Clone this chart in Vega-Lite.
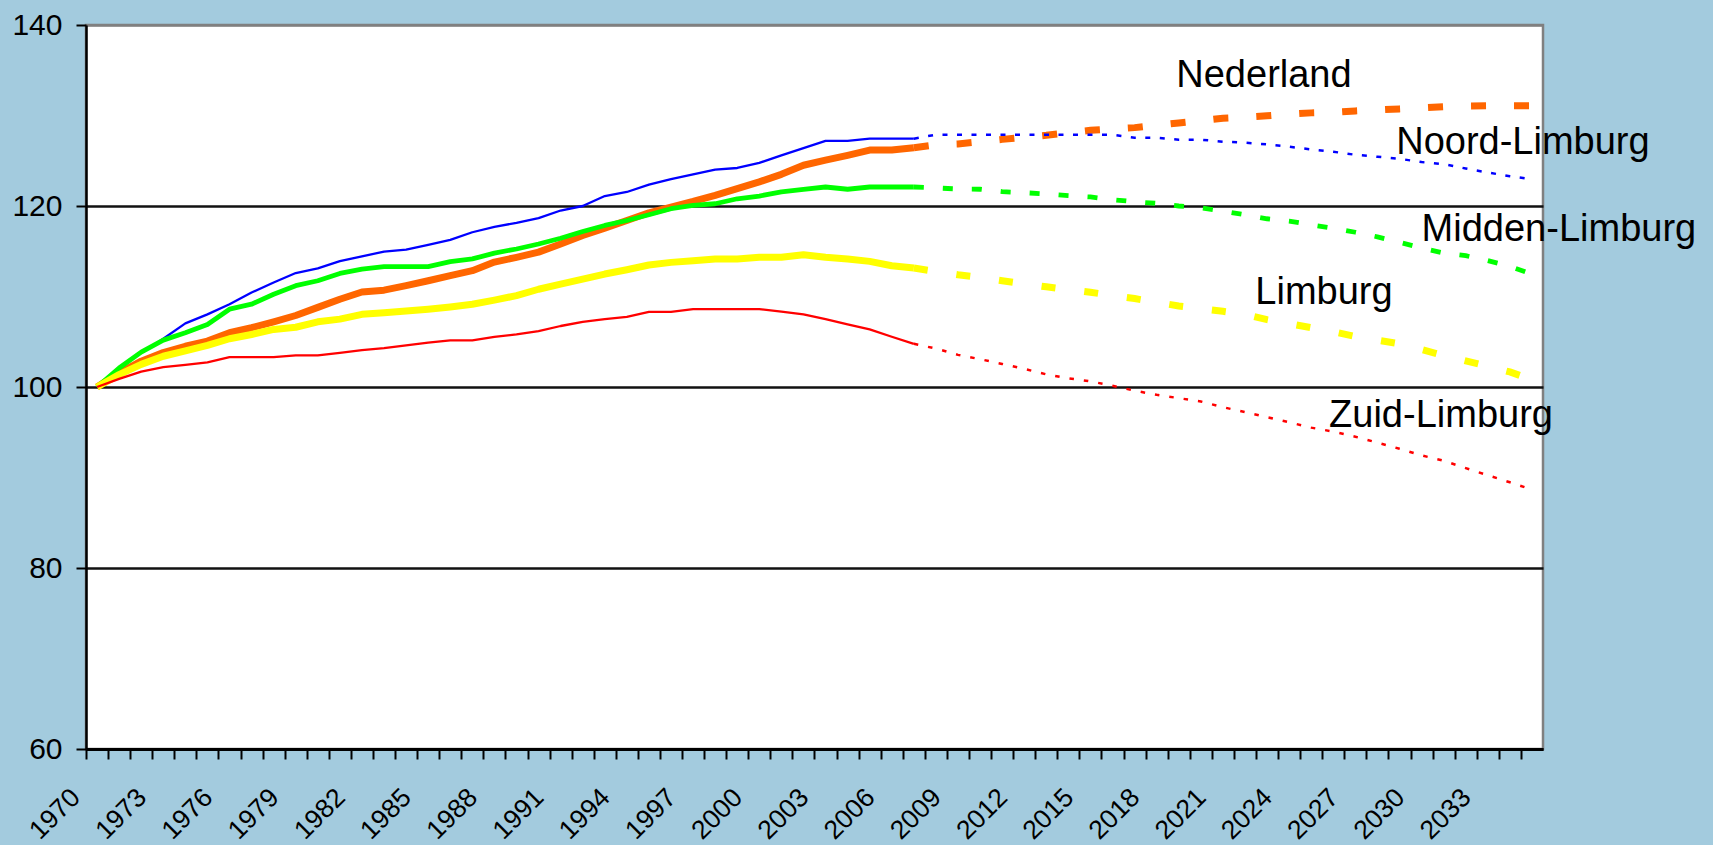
{
  "$schema": "https://vega.github.io/schema/vega-lite/v6.json",
  "autosize": {"type": "none"},
  "width": 1457,
  "height": 724,
  "padding": {"left": 86, "top": 25, "right": 170, "bottom": 96},
  "background": "#A3CBDE",
  "config": {
    "font": "Liberation Sans",
    "view": {"fill": "white", "stroke": "#808080", "strokeWidth": 2.5},
    "axis": {"labelColor": "black", "labelFont": "Liberation Sans", "domainColor": "black", "tickColor": "black", "title": null}
  },
  "datasets": {
    "ned_hist": [
      {"year":1970,"value":100},{"year":1971,"value":101.55},{"year":1972,"value":102.85},{"year":1973,"value":103.8},{"year":1974,"value":104.5},{"year":1975,"value":105.07},{"year":1976,"value":106.0},{"year":1977,"value":106.55},{"year":1978,"value":107.2},{"year":1979,"value":107.9},{"year":1980,"value":108.8},{"year":1981,"value":109.7},{"year":1982,"value":110.5},{"year":1983,"value":110.7},{"year":1984,"value":111.2},{"year":1985,"value":111.74},{"year":1986,"value":112.3},{"year":1987,"value":112.85},{"year":1988,"value":113.8},{"year":1989,"value":114.33},{"year":1990,"value":114.9},{"year":1991,"value":115.8},{"year":1992,"value":116.74},{"year":1993,"value":117.55},{"year":1994,"value":118.4},{"year":1995,"value":119.25},{"year":1996,"value":119.88},{"year":1997,"value":120.5},{"year":1998,"value":121.18},{"year":1999,"value":121.92},{"year":2000,"value":122.66},{"year":2001,"value":123.5},{"year":2002,"value":124.5},{"year":2003,"value":125.07},{"year":2004,"value":125.6},{"year":2005,"value":126.18},{"year":2006,"value":126.18},{"year":2007,"value":126.44}
    ],
    "ned_proj": [
      {"year":2007,"value":126.44},{"year":2008,"value":126.77},{"year":2009,"value":126.86},{"year":2010,"value":127.1},{"year":2011,"value":127.36},{"year":2012,"value":127.59},{"year":2013,"value":127.81},{"year":2014,"value":128.1},{"year":2015,"value":128.36},{"year":2016,"value":128.51},{"year":2017,"value":128.66},{"year":2018,"value":128.92},{"year":2019,"value":129.18},{"year":2020,"value":129.44},{"year":2021,"value":129.7},{"year":2022,"value":129.81},{"year":2023,"value":129.96},{"year":2024,"value":130.14},{"year":2025,"value":130.29},{"year":2026,"value":130.36},{"year":2027,"value":130.51},{"year":2028,"value":130.62},{"year":2029,"value":130.73},{"year":2030,"value":130.84},{"year":2031,"value":130.96},{"year":2032,"value":131.03},{"year":2033,"value":131.07},{"year":2034,"value":131.07},{"year":2035,"value":131.07}
    ],
    "noord_hist": [
      {"year":1970,"value":100},{"year":1971,"value":102.1},{"year":1972,"value":103.77},{"year":1973,"value":105.33},{"year":1974,"value":107.03},{"year":1975,"value":108.03},{"year":1976,"value":109.14},{"year":1977,"value":110.44},{"year":1978,"value":111.55},{"year":1979,"value":112.59},{"year":1980,"value":113.1},{"year":1981,"value":113.9},{"year":1982,"value":114.44},{"year":1983,"value":114.96},{"year":1984,"value":115.18},{"year":1985,"value":115.7},{"year":1986,"value":116.25},{"year":1987,"value":117.1},{"year":1988,"value":117.7},{"year":1989,"value":118.14},{"year":1990,"value":118.66},{"year":1991,"value":119.5},{"year":1992,"value":120.0},{"year":1993,"value":121.1},{"year":1994,"value":121.55},{"year":1995,"value":122.36},{"year":1996,"value":122.96},{"year":1997,"value":123.5},{"year":1998,"value":124.03},{"year":1999,"value":124.2},{"year":2000,"value":124.77},{"year":2001,"value":125.6},{"year":2002,"value":126.4},{"year":2003,"value":127.2},{"year":2004,"value":127.2},{"year":2005,"value":127.44},{"year":2006,"value":127.44},{"year":2007,"value":127.44}
    ],
    "noord_proj": [
      {"year":2007,"value":127.44},{"year":2008,"value":127.88},{"year":2009,"value":127.88},{"year":2010,"value":127.88},{"year":2011,"value":127.88},{"year":2012,"value":127.88},{"year":2013,"value":127.88},{"year":2014,"value":127.88},{"year":2015,"value":127.88},{"year":2016,"value":127.88},{"year":2017,"value":127.55},{"year":2018,"value":127.55},{"year":2019,"value":127.33},{"year":2020,"value":127.33},{"year":2021,"value":127.1},{"year":2022,"value":127.0},{"year":2023,"value":126.81},{"year":2024,"value":126.55},{"year":2025,"value":126.25},{"year":2026,"value":126.0},{"year":2027,"value":125.66},{"year":2028,"value":125.44},{"year":2029,"value":125.22},{"year":2030,"value":124.85},{"year":2031,"value":124.62},{"year":2032,"value":124.14},{"year":2033,"value":123.7},{"year":2034,"value":123.29},{"year":2035,"value":122.96}
    ],
    "midden_hist": [
      {"year":1970,"value":100},{"year":1971,"value":102.1},{"year":1972,"value":103.85},{"year":1973,"value":105.18},{"year":1974,"value":106.0},{"year":1975,"value":106.9},{"year":1976,"value":108.6},{"year":1977,"value":109.15},{"year":1978,"value":110.25},{"year":1979,"value":111.2},{"year":1980,"value":111.74},{"year":1981,"value":112.55},{"year":1982,"value":113.03},{"year":1983,"value":113.3},{"year":1984,"value":113.3},{"year":1985,"value":113.3},{"year":1986,"value":113.85},{"year":1987,"value":114.15},{"year":1988,"value":114.8},{"year":1989,"value":115.25},{"year":1990,"value":115.8},{"year":1991,"value":116.44},{"year":1992,"value":117.18},{"year":1993,"value":117.85},{"year":1994,"value":118.4},{"year":1995,"value":119.03},{"year":1996,"value":119.7},{"year":1997,"value":120.07},{"year":1998,"value":120.25},{"year":1999,"value":120.8},{"year":2000,"value":121.1},{"year":2001,"value":121.55},{"year":2002,"value":121.85},{"year":2003,"value":122.1},{"year":2004,"value":121.85},{"year":2005,"value":122.1},{"year":2006,"value":122.1},{"year":2007,"value":122.1}
    ],
    "midden_proj": [
      {"year":2007,"value":122.1},{"year":2008,"value":122.0},{"year":2009,"value":121.88},{"year":2010,"value":121.85},{"year":2011,"value":121.59},{"year":2012,"value":121.47},{"year":2013,"value":121.33},{"year":2014,"value":121.14},{"year":2015,"value":121.0},{"year":2016,"value":120.7},{"year":2017,"value":120.47},{"year":2018,"value":120.29},{"year":2019,"value":120.0},{"year":2020,"value":119.81},{"year":2021,"value":119.44},{"year":2022,"value":119.03},{"year":2023,"value":118.59},{"year":2024,"value":118.33},{"year":2025,"value":117.92},{"year":2026,"value":117.55},{"year":2027,"value":117.1},{"year":2028,"value":116.59},{"year":2029,"value":115.99},{"year":2030,"value":115.36},{"year":2031,"value":114.81},{"year":2032,"value":114.51},{"year":2033,"value":113.96},{"year":2034,"value":113.33},{"year":2035,"value":112.47}
    ],
    "limb_hist": [
      {"year":1970,"value":100},{"year":1971,"value":101.37},{"year":1972,"value":102.5},{"year":1973,"value":103.4},{"year":1974,"value":104.0},{"year":1975,"value":104.6},{"year":1976,"value":105.33},{"year":1977,"value":105.8},{"year":1978,"value":106.36},{"year":1979,"value":106.6},{"year":1980,"value":107.2},{"year":1981,"value":107.5},{"year":1982,"value":108.03},{"year":1983,"value":108.2},{"year":1984,"value":108.4},{"year":1985,"value":108.6},{"year":1986,"value":108.85},{"year":1987,"value":109.15},{"year":1988,"value":109.6},{"year":1989,"value":110.1},{"year":1990,"value":110.8},{"year":1991,"value":111.37},{"year":1992,"value":111.92},{"year":1993,"value":112.48},{"year":1994,"value":112.96},{"year":1995,"value":113.48},{"year":1996,"value":113.77},{"year":1997,"value":113.96},{"year":1998,"value":114.14},{"year":1999,"value":114.14},{"year":2000,"value":114.33},{"year":2001,"value":114.33},{"year":2002,"value":114.62},{"year":2003,"value":114.33},{"year":2004,"value":114.14},{"year":2005,"value":113.88},{"year":2006,"value":113.4},{"year":2007,"value":113.14}
    ],
    "limb_proj": [
      {"year":2007,"value":113.14},{"year":2008,"value":112.77},{"year":2009,"value":112.4},{"year":2010,"value":112.1},{"year":2011,"value":111.74},{"year":2012,"value":111.4},{"year":2013,"value":111.07},{"year":2014,"value":110.77},{"year":2015,"value":110.47},{"year":2016,"value":110.1},{"year":2017,"value":109.77},{"year":2018,"value":109.36},{"year":2019,"value":108.96},{"year":2020,"value":108.66},{"year":2021,"value":108.36},{"year":2022,"value":108.03},{"year":2023,"value":107.44},{"year":2024,"value":107.0},{"year":2025,"value":106.55},{"year":2026,"value":106.1},{"year":2027,"value":105.59},{"year":2028,"value":105.18},{"year":2029,"value":104.77},{"year":2030,"value":104.14},{"year":2031,"value":103.47},{"year":2032,"value":102.88},{"year":2033,"value":102.29},{"year":2034,"value":101.66},{"year":2035,"value":100.81}
    ],
    "zuid_hist": [
      {"year":1970,"value":100},{"year":1971,"value":100.9},{"year":1972,"value":101.7},{"year":1973,"value":102.2},{"year":1974,"value":102.44},{"year":1975,"value":102.73},{"year":1976,"value":103.3},{"year":1977,"value":103.3},{"year":1978,"value":103.3},{"year":1979,"value":103.5},{"year":1980,"value":103.5},{"year":1981,"value":103.77},{"year":1982,"value":104.07},{"year":1983,"value":104.3},{"year":1984,"value":104.6},{"year":1985,"value":104.9},{"year":1986,"value":105.15},{"year":1987,"value":105.15},{"year":1988,"value":105.55},{"year":1989,"value":105.81},{"year":1990,"value":106.18},{"year":1991,"value":106.74},{"year":1992,"value":107.2},{"year":1993,"value":107.5},{"year":1994,"value":107.74},{"year":1995,"value":108.3},{"year":1996,"value":108.3},{"year":1997,"value":108.6},{"year":1998,"value":108.6},{"year":1999,"value":108.6},{"year":2000,"value":108.6},{"year":2001,"value":108.33},{"year":2002,"value":108.03},{"year":2003,"value":107.5},{"year":2004,"value":106.92},{"year":2005,"value":106.36},{"year":2006,"value":105.55},{"year":2007,"value":104.77}
    ],
    "zuid_proj": [
      {"year":2007,"value":104.77},{"year":2008,"value":104.25},{"year":2009,"value":103.55},{"year":2010,"value":103.07},{"year":2011,"value":102.55},{"year":2012,"value":102.0},{"year":2013,"value":101.4},{"year":2014,"value":100.96},{"year":2015,"value":100.62},{"year":2016,"value":100.14},{"year":2017,"value":99.59},{"year":2018,"value":99.14},{"year":2019,"value":98.77},{"year":2020,"value":98.4},{"year":2021,"value":97.77},{"year":2022,"value":97.22},{"year":2023,"value":96.66},{"year":2024,"value":96.1},{"year":2025,"value":95.51},{"year":2026,"value":95.07},{"year":2027,"value":94.51},{"year":2028,"value":93.85},{"year":2029,"value":93.18},{"year":2030,"value":92.44},{"year":2031,"value":91.85},{"year":2032,"value":91.03},{"year":2033,"value":90.25},{"year":2034,"value":89.47},{"year":2035,"value":88.66}
    ],
    "labels": [
      {"label":"Nederland","year":2022.86,"value":134.38},
      {"label":"Noord-Limburg","year":2034.59,"value":126.93},
      {"label":"Midden-Limburg","year":2036.22,"value":117.35},
      {"label":"Limburg","year":2025.58,"value":110.44},
      {"label":"Zuid-Limburg","year":2030.88,"value":96.85}
    ]
  },
  "encoding": {
    "x": {
      "field": "year", "type": "quantitative",
      "scale": {"domain": [1969.5, 2035.5], "nice": false, "zero": false},
      "axis": {
        "values": [1970,1971,1972,1973,1974,1975,1976,1977,1978,1979,1980,1981,1982,1983,1984,1985,1986,1987,1988,1989,1990,1991,1992,1993,1994,1995,1996,1997,1998,1999,2000,2001,2002,2003,2004,2005,2006,2007,2008,2009,2010,2011,2012,2013,2014,2015,2016,2017,2018,2019,2020,2021,2022,2023,2024,2025,2026,2027,2028,2029,2030,2031,2032,2033,2034,2035,2036],
        "format": "d",
        "labelExpr": "(datum.value % 3 == 2 && datum.value <= 2033) ? datum.label : ''",
        "labelAngle": -45, "labelAlign": "right", "labelBaseline": "middle",
        "labelFontSize": 26.5, "labelPadding": 34, "labelOffset": -10.5,
        "tickOffset": -11.04, "tickSize": 10, "tickWidth": 2,
        "domainWidth": 3, "grid": false, "labelOverlap": false, "labelBound": false, "labelFlush": false
      }
    },
    "y": {
      "field": "value", "type": "quantitative",
      "scale": {"domain": [60, 140], "nice": false, "zero": false},
      "axis": {
        "values": [60, 80, 100, 120, 140],
        "labelFontSize": 30, "labelPadding": 14,
        "tickSize": 10, "tickWidth": 2, "domainWidth": 2.5,
        "grid": true, "gridWidth": 2.5,
        "gridColor": {"condition": {"test": "datum.value == 140", "value": "#808080"}, "value": "#111111"}
      }
    }
  },
  "layer": [
    {"data": {"name": "ned_hist"}, "mark": {"type": "line", "color": "#FF6600", "strokeWidth": 7, "strokeJoin": "round"}},
    {"data": {"name": "ned_proj"}, "mark": {"type": "line", "color": "#FF6600", "strokeWidth": 7, "strokeDash": [15, 28], "strokeCap": "butt"}},
    {"data": {"name": "noord_hist"}, "mark": {"type": "line", "color": "#0000FF", "strokeWidth": 2.3, "strokeJoin": "round"}},
    {"data": {"name": "noord_proj"}, "mark": {"type": "line", "color": "#0000FF", "strokeWidth": 2.5, "strokeDash": [5, 9.5], "strokeCap": "butt"}},
    {"data": {"name": "midden_hist"}, "mark": {"type": "line", "color": "#00FF00", "strokeWidth": 4.8, "strokeJoin": "round"}},
    {"data": {"name": "midden_proj"}, "mark": {"type": "line", "color": "#00FF00", "strokeWidth": 4.8, "strokeDash": [10, 19], "strokeCap": "butt"}},
    {"data": {"name": "limb_hist"}, "mark": {"type": "line", "color": "#FFFF00", "strokeWidth": 7, "strokeJoin": "round"}},
    {"data": {"name": "limb_proj"}, "mark": {"type": "line", "color": "#FFFF00", "strokeWidth": 7, "strokeDash": [14, 29], "strokeCap": "butt"}},
    {"data": {"name": "zuid_hist"}, "mark": {"type": "line", "color": "#FF0000", "strokeWidth": 2.3, "strokeJoin": "round"}},
    {"data": {"name": "zuid_proj"}, "mark": {"type": "line", "color": "#FF0000", "strokeWidth": 2.5, "strokeDash": [4.5, 10], "strokeCap": "butt"}},
    {
      "data": {"name": "labels"},
      "mark": {"type": "text", "font": "Liberation Sans", "fontSize": 38, "color": "black", "align": "center", "baseline": "middle"},
      "encoding": {"text": {"field": "label", "type": "nominal"}}
    }
  ]
}
